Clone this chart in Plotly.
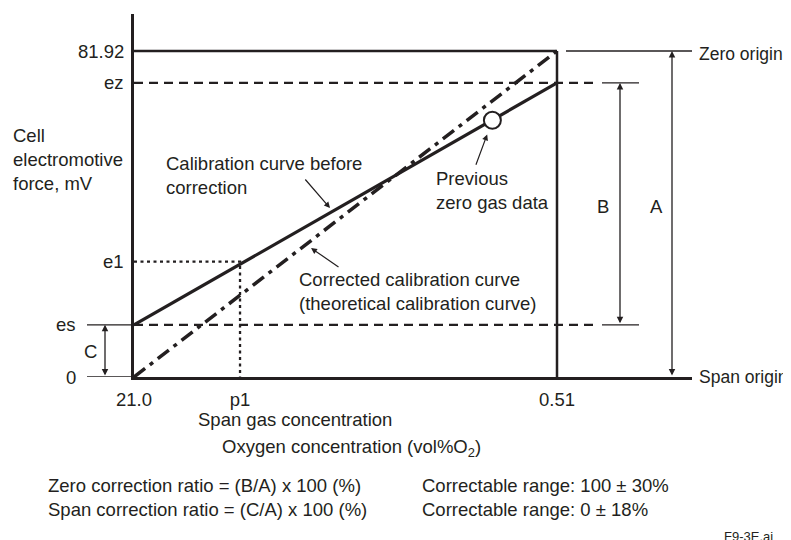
import math
import plotly.graph_objects as go

# ---------------- data ----------------
x_tick_vals = [21.0, 8.27, 0.51]          # oxygen concentration, vol% O2
x_tick_labels = ["21.0", "p1", "0.51"]

y_level_names = ["0", "es", "e1", "ez", "81.92"]
y_level_vals = [0.0, 13.1, 29.0, 73.9, 81.92]   # cell EMF, mV

es, e1, ez, emax = 13.1, 29.0, 73.9, 81.92
p1 = 8.27

before_x = [21.0, 0.51]        # calibration curve before correction
before_y = [13.1, 73.9]
corrected_x = [21.0, 0.49]     # corrected (theoretical) calibration curve
corrected_y = [0.0, 82.8]
prev_zero_x = [0.90]           # previous zero gas data
prev_zero_y = [64.5]

# ---------------- layout helpers ----------------
OFF = 8                     # page body margin offset
W, H = 791 - OFF, 540 - OFF
L = 134 - OFF
T = 14 - OFF
B = H - (377 - OFF)
R = W - (692 - OFF)
PW, PH = W - L - R, H - T - B
INK = "#231f20"
FONT = "Liberation Sans, Arial, sans-serif"
FS = 18.5


def px(xp):
    return (xp - OFF - L) / PW


def py(yp):
    return (H - B - (yp - OFF)) / PH


fig = go.Figure()

# frame lines at 81.92 and at 0.51
fig.add_trace(go.Scatter(x=[x_tick_vals[0], x_tick_vals[2]], y=[emax, emax], mode="lines",
                         line=dict(color=INK, width=2.5), hoverinfo="skip"))
fig.add_trace(go.Scatter(x=[x_tick_vals[2], x_tick_vals[2]], y=[0, emax], mode="lines",
                         line=dict(color=INK, width=2.5), hoverinfo="skip"))
# dotted e1 / p1 guide
fig.add_trace(go.Scatter(x=[x_tick_vals[0], p1, p1], y=[e1, e1, 0], mode="lines",
                         line=dict(color=INK, width=2.3, dash="3px,3.5px"), hoverinfo="skip"))
# curves
fig.add_trace(go.Scatter(x=corrected_x, y=corrected_y, mode="lines",
                         line=dict(color=INK, width=3.5, dash="14px,6px,4px,6px"), hoverinfo="skip"))
fig.add_trace(go.Scatter(x=before_x, y=before_y, mode="lines",
                         line=dict(color=INK, width=3.2), hoverinfo="skip"))
fig.add_trace(go.Scatter(x=prev_zero_x, y=prev_zero_y, mode="markers",
                         marker=dict(symbol="circle", size=17, color="white",
                                     line=dict(color=INK, width=2)), hoverinfo="skip"))

shapes = []
# dashed ez / es guides
for yv in (ez, es):
    shapes.append(dict(type="line", xref="paper", yref="y", x0=0, x1=px(597), y0=yv, y1=yv,
                       line=dict(color=INK, width=2.2, dash="9px,6px")))
    shapes.append(dict(type="line", xref="paper", yref="y", x0=px(602), x1=px(639), y0=yv, y1=yv,
                       line=dict(color=INK, width=1.3)))
# zero origin extension line
shapes.append(dict(type="line", xref="paper", yref="y", x0=px(566), x1=1, y0=emax, y1=emax,
                   line=dict(color=INK, width=1.3)))
# left extension lines at es and 0
for yv in (es, 0.0):
    shapes.append(dict(type="line", xref="paper", yref="y", x0=px(87), x1=0, y0=yv, y1=yv,
                       line=dict(color=INK, width=1.3)))

ann = []
txt = dict(color=INK, size=FS, family=FONT)


def text(s, xp, yp, xanchor="left", size=None, align="left"):
    f = dict(txt)
    if size:
        f["size"] = size
    ann.append(dict(text=s, xref="paper", yref="paper", x=px(xp), y=py(yp), xanchor=xanchor,
                    yanchor="middle", showarrow=False, font=f, align=align))


# y level labels
for name, val in zip(y_level_names, y_level_vals):
    shift = -56 if name in ("0", "es") else -8
    ann.append(dict(text=name, xref="paper", yref="y", x=0, y=val, xanchor="right",
                    yanchor="middle", xshift=shift, showarrow=False, font=txt))

text("Cell<br>electromotive<br>force, mV", 11, 159)
text("Calibration curve before<br>correction", 164, 175)
text("Corrected calibration curve<br>(theoretical calibration curve)", 297, 291)
text("Previous<br>zero gas data", 434, 190)
text("B", 603, 207, "center")
text("A", 656, 207, "center")
text("C", 90, 351, "center")
text("Zero origin", 697, 54, size=17.5)
text("Span origin", 697, 377, size=17.5)
text("Span gas concentration", 196, 419)
text("Oxygen concentration (vol%O<sub>2</sub>)", 220, 448)
text("Zero correction ratio = (B/A) x 100 (%)<br>Span correction ratio = (C/A) x 100 (%)", 46, 497)
text("Correctable range: 100 ± 30%<br>Correctable range: 0 ± 18%", 420, 497)
text("F9-3E.ai", 722, 536, size=13)

# pointer arrows
arr = dict(showarrow=True, arrowhead=2, arrowsize=1, arrowwidth=1.2, arrowcolor=INK, text="",
           font=dict(size=FS))
ann.append(dict(arr, xref="paper", yref="paper", x=px(330), y=py(208), ax=-26, ay=-30))
ann.append(dict(arr, xref="paper", yref="paper", x=px(311), y=py(248), ax=29, ay=20))
ann.append(dict(arr, xref="x", yref="y", x=math.log10(prev_zero_x[0]), y=prev_zero_y[0],
                ax=-17, ay=46, standoff=15))

# dimension arrows B, A, C
dim = dict(showarrow=True, arrowhead=2, arrowsize=1, arrowwidth=1.3, arrowcolor=INK, text="",
           arrowside="end+start", axref="pixel", ax=0, ayref="y", font=dict(size=FS))
ann.append(dict(dim, xref="paper", yref="y", x=px(620), y=ez, ay=es))
ann.append(dict(dim, xref="paper", yref="y", x=px(672), y=emax, ay=0))
ann.append(dict(dim, xref="paper", yref="y", x=px(105), y=es, ay=0))

x_lo = math.log10(21.0)
per_px = (math.log10(21.0) - math.log10(0.51)) / 423.0
x_hi = x_lo - PW * per_px

fig.update_layout(
    width=W, height=H,
    margin=dict(l=L, r=R, t=T, b=B, pad=0),
    paper_bgcolor="white", plot_bgcolor="white",
    showlegend=False,
    font=dict(family=FONT, color=INK, size=FS),
    xaxis=dict(type="log", range=[x_lo, x_hi], showgrid=False, zeroline=False,
               showline=True, linecolor=INK, linewidth=2.5, ticks="",
               tickvals=x_tick_vals, ticktext=x_tick_labels,
               tickfont=dict(size=FS, color=INK, family=FONT), ticklabelstandoff=4),
    yaxis=dict(range=[0, PH * (emax / 326.0)], showgrid=False, zeroline=False,
               showline=True, linecolor=INK, linewidth=2.5, ticks="", showticklabels=False),
    shapes=shapes,
    annotations=ann,
)

fig.write_html("out.html")
